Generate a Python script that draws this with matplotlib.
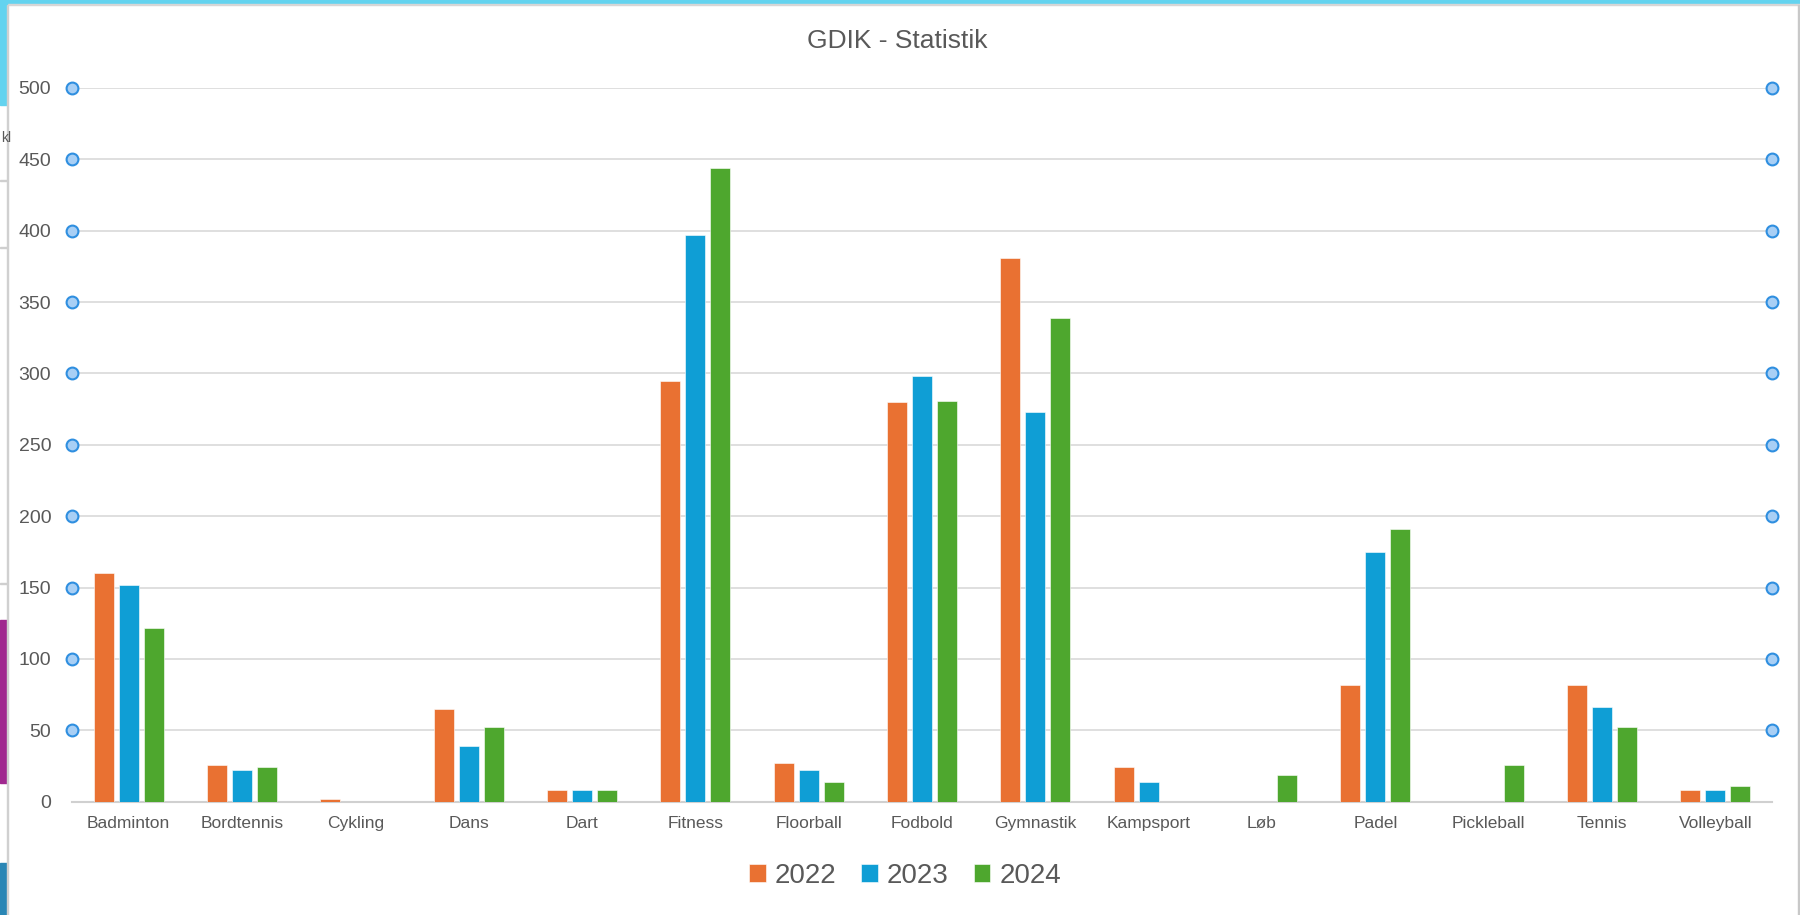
import numpy as np
import matplotlib
matplotlib.use("Agg")
import matplotlib.pyplot as plt
from matplotlib.patches import Rectangle
from matplotlib import font_manager

# data
sports = ["Badminton", "Bordtennis", "Cykling", "Dans", "Dart", "Fitness",
          "Floorball", "Fodbold", "Gymnastik", "Kampsport", "Løb", "Padel",
          "Pickleball", "Tennis", "Volleyball"]
years = ["2022", "2023", "2024"]
v2022 = [160, 26, 2, 65, 8, 295, 27, 280, 381, 24, 0, 82, 0, 82, 8]
v2023 = [152, 22, 0, 39, 8, 397, 22, 298, 273, 14, 0, 175, 0, 66, 8]
v2024 = [122, 24, 0, 52, 8, 444, 14, 281, 339, 0, 19, 191, 26, 52, 11]
yticks = [0, 50, 100, 150, 200, 250, 300, 350, 400, 450, 500]

colors = ["#E97132", "#0F9ED5", "#4EA72E"]
txt = "#595959"

names = {f.name for f in font_manager.fontManager.ttflist}
fam = [f for f in ["Liberation Sans Narrow", "Liberation Sans"] if f in names] + ["DejaVu Sans"]
plt.rcParams["font.family"] = fam

W, H = 1800, 915
fig = plt.figure(figsize=(W / 100, H / 100), dpi=100)

# screenshot surroundings (page behind the chart)
def px_rect(x0, y0, x1, y1, color):
    fig.patches.append(Rectangle((x0 / W, 1 - y1 / H), (x1 - x0) / W, (y1 - y0) / H,
                                 transform=fig.transFigure, color=color, zorder=0))

px_rect(0, 0, W, 4, "#63D3EF")
px_rect(0, 4, W, 5, "#D6D6D6")
px_rect(0, 0, 7, 105, "#63D3EF")
px_rect(0, 180, 7, 181, "#CFCFCF")
px_rect(0, 247, 7, 248, "#CFCFCF")
px_rect(0, 583, 7, 584, "#CFCFCF")
px_rect(0, 620, 7, 783, "#A0288F")
px_rect(0, 863, 7, H, "#2A86B5")
px_rect(7, 5, 8, H, "#D0D0D0")
px_rect(1798, 5, 1799, H, "#C8C8C8")
fig.text(1 / W, 1 - 138 / H, "kl", fontsize=10, color=txt, ha="left", va="center")

ax = fig.add_axes([72 / W, 1 - 801.7 / H, 1700 / W, (801.7 - 88) / H])
x = np.arange(len(sports))
w = 0.176
step = 0.221
for i, (vals, yr) in enumerate(zip([v2022, v2023, v2024], years)):
    ax.bar(x + (i - 1) * step, vals, w, color=colors[i], label=yr,
           edgecolor="white", linewidth=0.4, zorder=3)

ax.set_xlim(-0.5, len(sports) - 0.5)
ax.set_ylim(0, 500)
ax.set_yticks(yticks)
ax.set_xticks(x)
ax.set_xticklabels(sports)
ax.tick_params(axis="y", length=0, pad=15, labelsize=14, labelcolor=txt)
ax.tick_params(axis="x", length=0, pad=10, labelsize=12.5, labelcolor=txt)
ax.grid(axis="y", color="#D9D9D9", linewidth=1.2, zorder=0)
for s in ["top", "right", "left"]:
    ax.spines[s].set_visible(False)
ax.spines["bottom"].set_color("#D0D0D0")
ax.spines["bottom"].set_linewidth(1.5)

# selection handles at both ends of each gridline
for xf in [0, 1]:
    ax.plot([xf] * len(yticks[1:]), yticks[1:], "o", ms=8.5, mfc="#A8CFF5", mec="#2F8FE0",
            mew=1.5, transform=ax.get_yaxis_transform(), clip_on=False, zorder=5)

fig.text(897 / W, 1 - 41 / H, "GDIK - Statistik", fontsize=19, color=txt,
         ha="center", va="center")

fig.legend(loc="center", bbox_to_anchor=(905 / W, 1 - 876 / H), ncol=3, frameon=False,
           fontsize=20, labelcolor=txt, handlelength=0.6, handleheight=0.6,
           handletextpad=0.32, columnspacing=0.9)

fig.savefig("out.png", dpi=100)
